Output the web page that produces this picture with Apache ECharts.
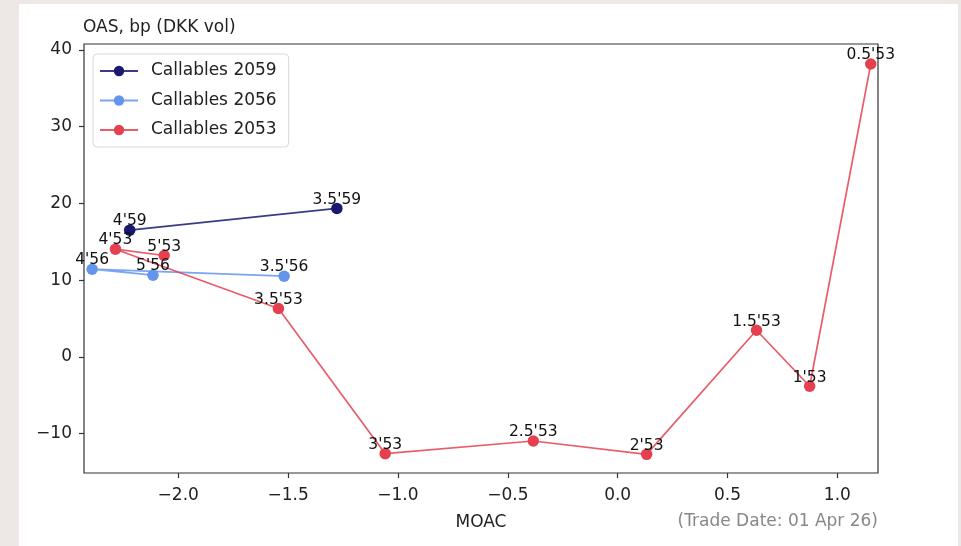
<!DOCTYPE html>
<html>
<head>
<meta charset="utf-8">
<script src="https://cdn.jsdelivr.net/npm/echarts@6/dist/echarts.min.js"></script>
<style>
html,body{margin:0;padding:0;background:#ede8e6;}
#c{width:961px;height:546px;}
</style>
</head>
<body>
<div id="c"></div>
<script>
// ---- data ----
const seriesNames = ["Callables 2059", "Callables 2056", "Callables 2053"];
const labels59 = ["4'59", "3.5'59"];
const moac59 = [-2.221, -1.278];
const oas59 = [16.52, 19.35];

const labels56 = ["5'56", "4'56", "3.5'56"];
const moac56 = [-2.115, -2.392, -1.518];
const oas56 = [10.65, 11.43, 10.52];

const labels53 = ["5'53", "4'53", "3.5'53", "3'53", "2.5'53", "2'53", "1.5'53", "1'53", "0.5'53"];
const moac53 = [-2.064, -2.286, -1.544, -1.058, -0.384, 0.132, 0.632, 0.874, 1.152];
const oas53 = [13.22, 14.04, 6.31, -12.60, -10.95, -12.69, 3.48, -3.82, 38.16];

const xTicks = [-2.0, -1.5, -1.0, -0.5, 0.0, 0.5, 1.0];
const yTicks = [-10, 0, 10, 20, 30, 40];
const xRange = [-2.429, 1.185];
const yRange = [-15.12, 40.77];

const colors = ["#191970", "#6495ED", "#E5404F"];
const FONT = "DejaVu Sans";

function fmt(v, d) {
  const s = Math.abs(v).toFixed(d);
  return v < 0 ? "\u2212" + s : s;
}
function mk(xs, ys, ls) {
  return xs.map((x, i) => ({ value: [x, ys[i]], name: ls[i] }));
}
function line(name, xs, ys, ls, color) {
  return {
    name: name,
    type: "line",
    data: mk(xs, ys, ls),
    symbol: "circle",
    symbolSize: 11.5,
    showAllSymbol: true,
    animation: false,
    itemStyle: { color: color, opacity: 1 },
    lineStyle: { color: color, width: 1.7, opacity: 0.85 },
    label: {
      show: true,
      position: "top",
      distance: -5,
      formatter: p => p.name,
      fontFamily: FONT,
      fontSize: 15.5,
      color: "#111"
    },
    emphasis: { disabled: true }
  };
}

const chart = echarts.init(document.getElementById("c"), null, { renderer: "canvas" });
chart.setOption({
  backgroundColor: "transparent",
  animation: false,
  graphic: [
    { type: "rect", left: 19, top: 4, shape: { width: 939, height: 542 }, style: { fill: "#ffffff" }, z: -100, silent: true },
    { type: "text", right: 961 - 878, top: 513, style: { text: "(Trade Date: 01 Apr 26)", fill: "#888888", font: "17px 'DejaVu Sans'" }, z: 10 }
  ],
  title: {
    text: "OAS, bp (DKK vol)",
    left: 83,
    top: 19,
    padding: 0,
    textStyle: { fontFamily: FONT, fontSize: 17, fontWeight: "normal", color: "#222" }
  },
  legend: {
    data: seriesNames,
    orient: "vertical",
    left: 93,
    top: 54,
    padding: [7, 12, 7, 6],
    itemWidth: 38,
    itemHeight: 13,
    itemGap: 9.5,
    backgroundColor: "rgba(255,255,255,0.85)",
    borderColor: "#d8d8d8",
    borderWidth: 1,
    borderRadius: 4,
    textStyle: { fontFamily: FONT, fontSize: 17, color: "#222", lineHeight: 20, padding: [0, 0, 0, 8] }
  },
  grid: {
    left: 84, right: 961 - 878, top: 44, bottom: 546 - 473,
    show: true, borderColor: "#333", borderWidth: 1.2, backgroundColor: "transparent",
    containLabel: false
  },
  xAxis: {
    type: "value",
    min: xRange[0], max: xRange[1],
    splitLine: { show: false },
    axisLine: { show: false, onZero: false },
    axisTick: { show: true, inside: false, length: 5, lineStyle: { color: "#333", width: 1.2 }, customValues: xTicks },
    axisLabel: { customValues: xTicks, formatter: v => fmt(v, 1), fontFamily: FONT, fontSize: 17, color: "#222", margin: 14 },
    name: "MOAC",
    nameLocation: "middle",
    nameGap: 41,
    nameTextStyle: { fontFamily: FONT, fontSize: 17, color: "#222" }
  },
  yAxis: {
    type: "value",
    min: yRange[0], max: yRange[1],
    splitLine: { show: false },
    axisLine: { show: false, onZero: false },
    axisTick: { show: true, inside: false, length: 5, lineStyle: { color: "#333", width: 1.2 }, customValues: yTicks },
    axisLabel: { customValues: yTicks, formatter: v => fmt(v, 0), fontFamily: FONT, fontSize: 17, color: "#222", margin: 12 }
  },
  series: [
    line(seriesNames[0], moac59, oas59, labels59, colors[0]),
    line(seriesNames[1], moac56, oas56, labels56, colors[1]),
    line(seriesNames[2], moac53, oas53, labels53, colors[2])
  ]
});
</script>
</body>
</html>
